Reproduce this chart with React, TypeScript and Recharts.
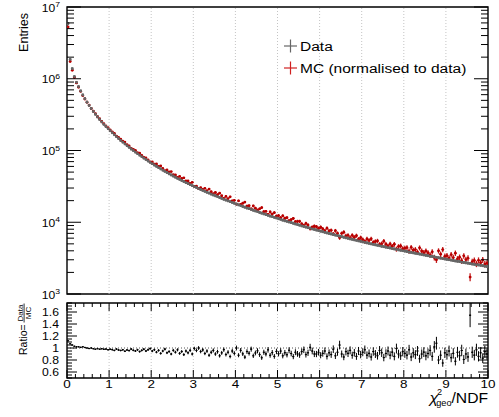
import React from 'react';
import {
  ScatterChart,
  Scatter,
  XAxis,
  YAxis,
  ErrorBar,
  ReferenceLine,
  ReferenceArea,
} from 'recharts';

// ---------------- data ----------------
const X_MIN = 0;
const X_MAX = 10;
const N_BINS = 200;

const DATA_COUNTS = [
  5890000, 1862000, 1380000, 1072000, 891000, 776000, 676000, 594000, 527000, 472000,
  425000, 385000, 350000, 320000, 294000, 271000, 251000, 232000, 216000, 202000,
  189000, 177000, 166000, 156000, 147000, 138000, 131000, 124000, 117000, 111000,
  105000, 100000, 95100, 90600, 86300, 82200, 78500, 75000, 71600, 68500,
  65600, 62800, 60300, 57800, 55500, 53300, 51300, 49300, 47400, 45700,
  44100, 42500, 41000, 39600, 38300, 37000, 35700, 34600, 33500, 32400,
  31400, 30500, 29500, 28600, 27800, 27000, 26200, 25500, 24700, 24000,
  23400, 22800, 22100, 21500, 20900, 20400, 19900, 19400, 18900, 18400,
  17900, 17500, 17100, 16600, 16200, 15800, 15500, 15100, 14700, 14400,
  14100, 13700, 13400, 13100, 12800, 12500, 12200, 12000, 11700, 11500,
  11200, 11000, 10700, 10500, 10300, 10100, 9890, 9680, 9480, 9290,
  9100, 8910, 8750, 8570, 8410, 8260, 8090, 7940, 7800, 7660,
  7520, 7380, 7240, 7110, 6980, 6870, 6750, 6620, 6520, 6400,
  6300, 6180, 6080, 5980, 5870, 5780, 5690, 5600, 5510, 5420,
  5330, 5250, 5160, 5080, 5000, 4930, 4850, 4780, 4710, 4630,
  4570, 4500, 4440, 4380, 4310, 4250, 4190, 4130, 4070, 4020,
  3960, 3910, 3850, 3800, 3750, 3700, 3650, 3610, 3560, 3510,
  3460, 3420, 3370, 3330, 3290, 3240, 3200, 3160, 3120, 3080,
  3040, 3010, 2970, 2930, 2890, 2860, 2830, 2790, 2750, 2720,
  2690, 2660, 2620, 2590, 2560, 2540, 2510, 2480, 2450, 2420,
];

const MC_COUNTS = [
  5260000, 1740000, 1314000, 1041000, 874000, 761000, 669000, 582000, 522000, 472000,
  429000, 385000, 354000, 327000, 297000, 277000, 254000, 237000, 220000, 208000,
  193000, 182000, 173000, 159000, 152000, 144000, 135000, 131000, 121000, 116000,
  107000, 104000, 100100, 93400, 91800, 85600, 80100, 78900, 73800, 69200,
  69100, 64700, 64800, 60200, 61000, 56100, 52300, 53600, 50400, 50800,
  45900, 45700, 42300, 43500, 40700, 41600, 37600, 37600, 34900, 36000,
  31700, 31800, 29500, 30400, 28700, 29700, 27600, 29000, 26600, 25000,
  26000, 24300, 25400, 23400, 21500, 22900, 21400, 22600, 19900, 20200,
  17900, 19900, 17800, 18400, 19100, 16800, 17000, 15400, 16900, 15700,
  14800, 15400, 16000, 14100, 14200, 12900, 13900, 13000, 13600, 12200,
  12400, 11600, 12300, 11400, 11600, 10500, 10900, 11300, 10200, 10300,
  10300, 9480, 9020, 9630, 9140, 8180, 8520, 8820, 8670, 8240,
  8550, 8110, 7620, 8270, 7590, 7720, 6890, 7610, 7010, 6100,
  7000, 7270, 6470, 6570, 6110, 6570, 6180, 6510, 5800, 6090,
  5730, 5410, 5860, 5580, 5880, 5240, 5390, 5490, 4910, 5030,
  5440, 4950, 4670, 4980, 4630, 4940, 4230, 4590, 4680, 4280,
  4350, 4440, 3970, 4470, 4080, 4160, 3840, 4400, 3960, 3770,
  3980, 3760, 3510, 3870, 3230, 3000, 4000, 3590, 4160, 3350,
  3420, 3170, 3540, 3220, 3710, 3080, 3250, 2910, 3400, 3020,
  3160, 1720, 2820, 2940, 2640, 2950, 2730, 2990, 2610, 2690,
];

// MC events carry a normalisation weight (MC statistics ~ 1/28 of data)
const MC_WEIGHT = 28;

const SERIES_NAMES = ['Data', 'MC (normalised to data)'];
const X_LABELS = [0, 1, 2, 3, 4, 5, 6, 7, 8, 9, 10];
const X_MINOR_STEP = 0.2;
const GRID_X = [1, 2, 3, 4, 5, 6, 7, 8, 9];
const LOG_DECADES = [3, 4, 5, 6, 7];
const RATIO_LABELS = [0.6, 0.8, 1, 1.2, 1.4, 1.6];
const RATIO_MINOR_STEP = 0.05;
const ENTRIES_DOMAIN: [number, number] = [1e3, 1e7];
const RATIO_DOMAIN: [number, number] = [0.5, 1.75];

// ---------------- style / layout ----------------
const FONT = '"Liberation Sans", Arial, Helvetica, sans-serif';
const SX = 1.15; // horizontal stretch of the reference's text
const GRAY = '#666666';
const RED = '#b80000';
const RED_ERR = '#c41818';
const PL = 67;
const PR = 488;
const TOP_T = 7;
const TOP_B = 294;
const R_OFF = 296;
const R_T = 7; // in ratio-chart coords (303 on page)
const R_B = 82; // (378 on page)

// ---------------- derived points ----------------
const BIN_W = (X_MAX - X_MIN) / N_BINS;
const centre = (i: number) => X_MIN + (i + 0.5) * BIN_W;

const dataPts = DATA_COUNTS.map((n, i) => ({ x: centre(i), y: n, ex: BIN_W / 2, ey: Math.sqrt(n) }));
const mcPts = MC_COUNTS.map((m, i) => ({ x: centre(i), y: m, ex: BIN_W / 2, ey: Math.sqrt(MC_WEIGHT * m) }));
const ratioPts = DATA_COUNTS.map((n, i) => {
  const m = MC_COUNTS[i];
  const r = n / m;
  return { x: centre(i), y: r, ex: BIN_W / 2, ey: r * Math.sqrt(1 / n + MC_WEIGHT / m) };
});

const xTicks: number[] = [];
for (let k = 0; k <= Math.round((X_MAX - X_MIN) / X_MINOR_STEP); k++) xTicks.push(+(X_MIN + k * X_MINOR_STEP).toFixed(3));
const logTicks: number[] = [];
LOG_DECADES.forEach((d, j) => {
  if (j === LOG_DECADES.length - 1) logTicks.push(Math.pow(10, d));
  else for (let k = 1; k <= 9; k++) logTicks.push(k * Math.pow(10, d));
});
const ratioTicks: number[] = [];
for (let k = 0; k <= Math.round((RATIO_DOMAIN[1] - RATIO_DOMAIN[0]) / RATIO_MINOR_STEP); k++)
  ratioTicks.push(+(RATIO_DOMAIN[0] + k * RATIO_MINOR_STEP).toFixed(3));

const isInt = (v: number) => Math.abs(v - Math.round(v)) < 1e-6;

// ---------------- tick renderers ----------------
const TopYTick = (p: any) => {
  const { y, payload } = p;
  const e = Math.log10(payload.value);
  const major = isInt(e);
  const L = major ? 14 : 7;
  return (
    <g>
      <line x1={PL} x2={PL + L} y1={y} y2={y} stroke="#000" strokeWidth={1} />
      <line x1={PR - L} x2={PR} y1={y} y2={y} stroke="#000" strokeWidth={1} />
      {major && (
        <text transform={`translate(60,${y + 4.5}) scale(${SX},1)`} textAnchor="end" fontSize={10.5} fontFamily={FONT} fill="#000">
          10<tspan dy={-4.5} fontSize={7.5}>{Math.round(e)}</tspan>
        </text>
      )}
    </g>
  );
};

const TopXTick = (p: any) => {
  const { x, payload } = p;
  const major = isInt(payload.value);
  const L = major ? 9 : 4.5;
  return (
    <g>
      <line x1={x} x2={x} y1={TOP_B} y2={TOP_B - L} stroke="#000" strokeWidth={1} />
      <line x1={x} x2={x} y1={TOP_T} y2={TOP_T + L} stroke="#000" strokeWidth={1} />
    </g>
  );
};

const RatioXTick = (p: any) => {
  const { x, payload } = p;
  const v = payload.value;
  const major = isInt(v);
  const L = major ? 8 : 4;
  return (
    <g>
      <line x1={x} x2={x} y1={R_B} y2={R_B - L} stroke="#000" strokeWidth={1} />
      <line x1={x} x2={x} y1={R_T} y2={R_T + L} stroke="#000" strokeWidth={1} />
      {major && X_LABELS.includes(Math.round(v)) && (
        <text transform={`translate(${x},92) scale(${SX},1)`} textAnchor="middle" fontSize={11.7} fontFamily={FONT} fill="#000">
          {Math.round(v)}
        </text>
      )}
    </g>
  );
};

const RatioYTick = (p: any) => {
  const { y, payload } = p;
  const v = payload.value;
  const major = RATIO_LABELS.some((r) => Math.abs(r - v) < 1e-6);
  const L = major ? 10 : 5;
  return (
    <g>
      <line x1={PL} x2={PL + L} y1={y} y2={y} stroke="#000" strokeWidth={1} />
      <line x1={PR - L} x2={PR} y1={y} y2={y} stroke="#000" strokeWidth={1} />
      {major && (
        <text transform={`translate(59,${y + 3.8}) scale(${SX},1)`} textAnchor="end" fontSize={10.6} fontFamily={FONT} fill="#000">
          {isInt(v) ? String(Math.round(v)) : v.toFixed(1)}
        </text>
      )}
    </g>
  );
};

// ---------------- axis titles ----------------
const EntriesLabel = () => (
  <text transform="translate(28,13) rotate(-90)" textAnchor="end" fontSize={12.5} fontFamily={FONT} fill="#000">
    Entries
  </text>
);

const RatioLabel = () => (
  <g transform="translate(26.5,59) rotate(-90)" fontFamily={FONT} fill="#000">
    <text x={0} y={0} fontSize={10.5}>Ratio=</text>
    <text x={42} y={-3.6} fontSize={8} textAnchor="middle">Data</text>
    <line x1={32.5} x2={51.5} y1={-2.4} y2={-2.4} stroke="#000" strokeWidth={0.8} />
    <text x={42} y={4.6} fontSize={8} textAnchor="middle">MC</text>
  </g>
);

const XTitle = () => (
  <text transform={`translate(488,107) scale(1.08,1)`} textAnchor="end" fontSize={14.5} fontFamily={FONT} fill="#000">
    <tspan fontStyle="italic">χ</tspan>
    <tspan fontSize={8.5} dx={-1} dy={-8}>2</tspan>
    <tspan fontSize={8.5} dx={-5.5} dy={11}>geo</tspan>
    <tspan dy={-3}>/NDF</tspan>
  </text>
);

const LegendBox = () => (
  <svg width={215} height={46} style={{ display: 'block', overflow: 'visible' }}>
    {SERIES_NAMES.map((name, i) => {
      const cy = 11 + i * 22;
      const col = i === 0 ? GRAY : '#d02020';
      return (
        <g key={name}>
          <line x1={8} x2={21} y1={cy} y2={cy} stroke={col} strokeWidth={1.2} />
          <line x1={14.5} x2={14.5} y1={cy - 6.5} y2={cy + 6.5} stroke={col} strokeWidth={1.2} />
          <text transform={`translate(24,${cy + 5}) scale(${SX},1)`} fontSize={13.5} fontFamily={FONT} fill="#000">
            {name}
          </text>
        </g>
      );
    })}
  </svg>
);

const dot = (col: string, r: number) => (p: any) =>
  p.cx == null || p.cy == null ? <g /> : <circle cx={p.cx} cy={p.cy} r={r} fill={col} />;

export default function App() {
  return (
    <div style={{ position: 'absolute', left: 0, top: 0, width: 499, height: 417, background: '#fff' }}>
      <div style={{ position: 'absolute', left: 0, top: 0 }}>
        <ScatterChart width={499} height={300} margin={{ top: TOP_T, right: 499 - PR, bottom: 300 - TOP_B, left: 7 }}>
          <XAxis
            type="number"
            dataKey="x"
            domain={[X_MIN, X_MAX]}
            ticks={xTicks}
            interval={0}
            allowDataOverflow
            axisLine={false}
            tickLine={false}
            height={0}
            tick={TopXTick}
          />
          <YAxis
            type="number"
            dataKey="y"
            scale="log"
            domain={ENTRIES_DOMAIN}
            ticks={logTicks}
            interval={0}
            allowDataOverflow
            axisLine={false}
            tickLine={false}
            width={60}
            tick={TopYTick}
            label={<EntriesLabel />}
          />
          {GRID_X.map((g) => (
            <ReferenceLine key={g} x={g} stroke="#c4c4c4" strokeDasharray="1 2" ifOverflow="visible" />
          ))}
          <Scatter name={SERIES_NAMES[1]} data={mcPts} isAnimationActive={false} shape={dot(RED, 1.4)}>
            <ErrorBar dataKey="ey" direction="y" width={0} stroke={RED_ERR} strokeWidth={1.3} isAnimationActive={false} />
            <ErrorBar dataKey="ex" direction="x" width={0} stroke={RED} strokeWidth={1.3} isAnimationActive={false} />
          </Scatter>
          <Scatter name={SERIES_NAMES[0]} data={dataPts} isAnimationActive={false} shape={dot(GRAY, 1.4)}>
            <ErrorBar dataKey="ey" direction="y" width={0} stroke={GRAY} strokeWidth={1} isAnimationActive={false} />
            <ErrorBar dataKey="ex" direction="x" width={0} stroke={GRAY} strokeWidth={2.8} isAnimationActive={false} />
          </Scatter>
          <ReferenceArea
            x1={X_MIN}
            x2={X_MAX}
            y1={ENTRIES_DOMAIN[0]}
            y2={ENTRIES_DOMAIN[1]}
            fill="none"
            fillOpacity={0}
            stroke="#000"
            strokeWidth={1.4}
            ifOverflow="visible"
          />
        </ScatterChart>
      </div>
      <div style={{ position: 'absolute', left: 276, top: 35, width: 215, height: 46 }}>
        <LegendBox />
      </div>
      <div style={{ position: 'absolute', left: 0, top: R_OFF }}>
        <ScatterChart width={499} height={121} margin={{ top: R_T, right: 499 - PR, bottom: 9, left: 7 }}>
          <XAxis
            type="number"
            dataKey="x"
            domain={[X_MIN, X_MAX]}
            ticks={xTicks}
            interval={0}
            allowDataOverflow
            axisLine={false}
            tickLine={false}
            height={30}
            tick={RatioXTick}
            label={<XTitle />}
          />
          <YAxis
            type="number"
            dataKey="y"
            domain={RATIO_DOMAIN}
            ticks={ratioTicks}
            interval={0}
            allowDataOverflow
            axisLine={false}
            tickLine={false}
            width={60}
            tick={RatioYTick}
            label={<RatioLabel />}
          />
          {GRID_X.map((g) => (
            <ReferenceLine key={g} x={g} stroke="#c4c4c4" strokeDasharray="1 2" ifOverflow="visible" />
          ))}
          <ReferenceLine y={1} stroke="#555" strokeDasharray="1 2" ifOverflow="visible" />
          <Scatter name="Ratio" data={ratioPts} isAnimationActive={false} shape={dot('#000', 0.8)}>
            <ErrorBar dataKey="ey" direction="y" width={0} stroke="#000" strokeWidth={1} isAnimationActive={false} />
            <ErrorBar dataKey="ex" direction="x" width={0} stroke="#000" strokeWidth={1} isAnimationActive={false} />
          </Scatter>
          <ReferenceArea
            x1={X_MIN}
            x2={X_MAX}
            y1={RATIO_DOMAIN[0]}
            y2={RATIO_DOMAIN[1]}
            fill="none"
            fillOpacity={0}
            stroke="#000"
            strokeWidth={1.4}
            ifOverflow="visible"
          />
        </ScatterChart>
      </div>
    </div>
  );
}
